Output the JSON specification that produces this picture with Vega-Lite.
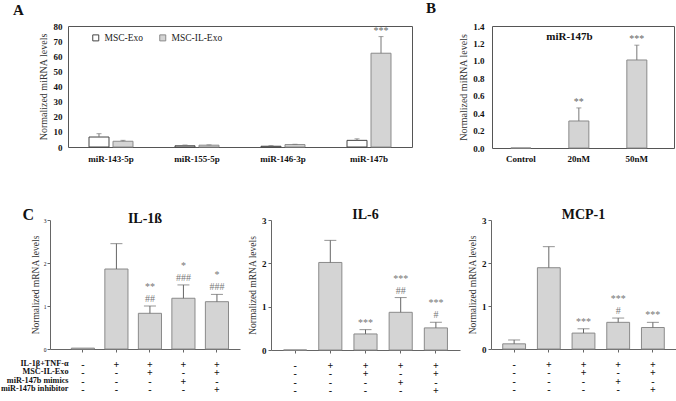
{
  "$schema": "https://vega.github.io/schema/vega-lite/v6.json",
  "autosize": {"type": "pad"},
  "padding": 0,
  "spacing": 42,
  "config": {
    "font": "Liberation Serif",
    "view": {"stroke": null},
    "axis": {"grid": false, "labelFont": "Liberation Serif", "titleFont": "Liberation Serif", "labelColor": "#111", "titleColor": "#333", "titleFontWeight": "normal"},
    "title": {"font": "Liberation Serif", "fontWeight": "bold", "color": "#111"},
    "legend": {"labelFont": "Liberation Serif"}
  },
  "datasets": {
    "a": [
      {"mirna": "miR-143-5p", "group": "MSC-Exo", "value": 6.6, "err": 8.8},
      {"mirna": "miR-143-5p", "group": "MSC-IL-Exo", "value": 3.8, "err": 4.4},
      {"mirna": "miR-155-5p", "group": "MSC-Exo", "value": 0.8, "err": 1.3},
      {"mirna": "miR-155-5p", "group": "MSC-IL-Exo", "value": 1.2, "err": 1.4},
      {"mirna": "miR-146-3p", "group": "MSC-Exo", "value": 0.5, "err": 0.9},
      {"mirna": "miR-146-3p", "group": "MSC-IL-Exo", "value": 1.6, "err": 1.8},
      {"mirna": "miR-147b", "group": "MSC-Exo", "value": 4.4, "err": 5.4},
      {"mirna": "miR-147b", "group": "MSC-IL-Exo", "value": 62, "err": 73, "low": "***"}
    ],
    "b": [
      {"dose": "Control", "value": 0},
      {"dose": "20nM", "value": 0.31, "err": 0.46, "low": "**"},
      {"dose": "50nM", "value": 1.01, "err": 1.18, "low": "***"}
    ],
    "il1b": [
      {"cond": "-|-|-|-", "value": 0.02},
      {"cond": "+|-|-|-", "value": 1.86, "err": 2.45},
      {"cond": "+|+|-|-", "value": 0.83, "err": 1.0, "top": "**", "low": "##"},
      {"cond": "+|-|+|-", "value": 1.18, "err": 1.49, "top": "*", "low": "###"},
      {"cond": "+|+|-|+", "value": 1.1, "err": 1.27, "top": "*", "low": "###"}
    ],
    "il6": [
      {"cond": "-|-|-|-", "value": 0},
      {"cond": "+|-|-|-", "value": 2.02, "err": 2.53},
      {"cond": "+|+|-|-", "value": 0.37, "err": 0.47, "low": "***"},
      {"cond": "+|-|+|-", "value": 0.87, "err": 1.21, "top": "***", "low": "##"},
      {"cond": "+|+|-|+", "value": 0.51, "err": 0.64, "top": "***", "low": "#"}
    ],
    "mcp1": [
      {"cond": "-|-|-|-", "value": 0.12, "err": 0.21},
      {"cond": "+|-|-|-", "value": 1.89, "err": 2.38},
      {"cond": "+|+|-|-", "value": 0.37, "err": 0.47, "low": "***"},
      {"cond": "+|-|+|-", "value": 0.62, "err": 0.72, "top": "***", "low": "#"},
      {"cond": "+|+|-|+", "value": 0.5, "err": 0.62, "low": "***"}
    ],
    "none": []
  },
  "vconcat": [
    {
      "bounds": "flush",
      "spacing": 17,
      "hconcat": [
        {"width": 1, "height": 10, "data": {"name": "none"}, "mark": "point"},
        {
          "bounds": "flush",
          "spacing": 80,
          "hconcat": [
            {
              "width": 344, "height": 121,
              "view": {"stroke": "#555"},
              "title": {"text": "A", "anchor": "start", "frame": "group", "dx": -55, "fontSize": 15, "offset": 4},
              "data": {"name": "a"},
              "encoding": {
                "x": {"field": "mirna", "type": "nominal", "sort": ["miR-143-5p", "miR-155-5p", "miR-146-3p", "miR-147b"],
                      "scale": {"paddingInner": 0, "paddingOuter": 0},
                      "axis": {"title": null, "labelAngle": 0, "ticks": false, "domain": false, "labelFontWeight": "bold", "labelFontSize": 9, "labelPadding": 7}},
                "xOffset": {"field": "group", "type": "nominal", "sort": ["MSC-Exo", "MSC-IL-Exo"], "scale": {"paddingInner": 0.167, "paddingOuter": 0.875}},
                "y": {"field": "value", "type": "quantitative", "scale": {"domain": [0, 80], "nice": false},
                      "axis": {"title": "Normalized miRNA levels", "values": [0, 10, 20, 30, 40, 50, 60, 70, 80], "ticks": false, "domain": false, "labelFontWeight": "bold", "labelFontSize": 9, "labelPadding": 6, "titleFontSize": 10, "titlePadding": 5}}
              },
              "layer": [
                {"mark": {"type": "bar", "strokeWidth": 1},
                 "encoding": {
                   "color": {"field": "group", "type": "nominal", "scale": {"domain": ["MSC-Exo", "MSC-IL-Exo"], "range": ["#ffffff", "#d4d4d4"]},
                             "legend": {"title": null, "orient": "none", "legendX": 41, "legendY": 7, "direction": "horizontal", "symbolType": "square", "symbolSize": 36, "labelFontSize": 9.5, "labelOffset": 4, "labelColor": "#222", "columnPadding": 13, "symbolStrokeWidth": 1}},
                   "stroke": {"field": "group", "type": "nominal", "scale": {"domain": ["MSC-Exo", "MSC-IL-Exo"], "range": ["#444444", "#8a8a8a"]}, "legend": null}
                 }},
                {"transform": [{"filter": "isValid(datum.err)"}], "mark": {"type": "rule", "color": "#777"}, "encoding": {"y2": {"field": "err"}}},
                {"transform": [{"filter": "isValid(datum.err)"}], "mark": {"type": "tick", "color": "#777", "size": 5, "thickness": 1}, "encoding": {"y": {"field": "err", "type": "quantitative"}}},
                {"transform": [{"filter": "isValid(datum.low)"}], "mark": {"type": "text", "baseline": "bottom", "dy": -1, "fontSize": 10, "color": "#666"}, "encoding": {"y": {"field": "err", "type": "quantitative"}, "text": {"field": "low"}}}
              ]
            },
            {
              "width": 182, "height": 122,
              "view": {"stroke": "#555"},
              "title": {"text": "B", "anchor": "start", "frame": "group", "dx": -66, "fontSize": 15, "offset": 6},
              "data": {"name": "b"},
              "resolve": {"axis": {"x": "independent"}},
              "layer": [
                {
                  "encoding": {
                    "x": {"field": "dose", "type": "nominal", "sort": ["Control", "20nM", "50nM"],
                          "scale": {"paddingInner": 0.655, "paddingOuter": 0.397, "align": 0.41},
                          "axis": {"title": null, "labelAngle": 0, "ticks": false, "domain": false, "labelFontWeight": "bold", "labelFontSize": 9, "labelPadding": 6}},
                    "y": {"field": "value", "type": "quantitative", "scale": {"domain": [0, 1.4], "nice": false},
                          "axis": {"title": "Normalized miRNA levels", "values": [0, 0.2, 0.4, 0.6, 0.8, 1.0, 1.2, 1.4], "format": ".1f", "labelOverlap": false, "ticks": false, "domain": false, "labelFontWeight": "bold", "labelFontSize": 9, "labelPadding": 8, "titleFontSize": 10, "titlePadding": 4}}
                  },
                  "layer": [
                    {"mark": {"type": "bar", "fill": "#d4d4d4", "stroke": "#8a8a8a", "strokeWidth": 1}},
                    {"transform": [{"filter": "isValid(datum.err)"}], "mark": {"type": "tick", "color": "#777", "size": 5, "thickness": 1}, "encoding": {"y": {"field": "err", "type": "quantitative"}}},
                    {"transform": [{"filter": "isValid(datum.low)"}], "mark": {"type": "text", "baseline": "bottom", "dy": -1, "fontSize": 10, "color": "#666"}, "encoding": {"y": {"field": "err", "type": "quantitative"}, "text": {"field": "low"}}}
                  ]
                },
                {
                  "transform": [{"filter": "isValid(datum.err)"}],
                  "mark": {"type": "rule", "color": "#777"},
                  "encoding": {
                    "x": {"field": "dose", "type": "nominal", "sort": ["Control", "20nM", "50nM"],
                          "scale": {"paddingInner": 0.655, "paddingOuter": 0.397, "align": 0.41},
                          "axis": {"orient": "top", "labels": false, "ticks": false, "domain": false, "title": "miR-147b", "titleX": 77, "titleY": 10, "titleAlign": "center", "titleBaseline": "middle", "titleAngle": 0, "titleFontSize": 11, "titleFontWeight": "bold", "titleColor": "#111"}},
                    "y": {"field": "value", "type": "quantitative", "scale": {"domain": [0, 1.4], "nice": false},
                          "axis": {"title": "Normalized miRNA levels", "values": [0, 0.2, 0.4, 0.6, 0.8, 1.0, 1.2, 1.4], "format": ".1f", "labelOverlap": false, "ticks": false, "domain": false, "labelFontWeight": "bold", "labelFontSize": 9, "labelPadding": 8, "titleFontSize": 10, "titlePadding": 4}},
                    "y2": {"field": "err"}
                  }
                }
              ]
            }
          ]
        }
      ]
    },
    {
      "bounds": "flush",
      "spacing": 31,
      "hconcat": [
        {
          "width": 190, "height": 129,
          "title": {"text": "IL-1ß", "fontSize": 14, "offset": -20},
          "data": {"name": "il1b"},
          "resolve": {"axis": {"x": "independent"}},
          "layer": [
            {
              "encoding": {
                "x": {"field": "cond", "type": "nominal", "sort": null,
                      "scale": {"paddingInner": 0.31, "paddingOuter": 0.49, "align": 0.65},
                      "axis": {"labelExpr": "split(datum.value, '|')", "labelAngle": 0, "labelFontWeight": "bold", "labelFontSize": 10, "labelLineHeight": 8.5, "labelPadding": 7, "labelBaseline": "top", "tickSize": 3, "tickColor": "#666", "domainColor": "#666",
                               "title": ["IL-1β+TNF-α", "MSC-IL-Exo", "miR-147b mimics", "miR-147b inhibitor"], "titleAngle": 0, "titleAlign": "right", "titleBaseline": "top", "titleX": 18, "titleY": 10, "titleLineHeight": 8.5, "titleFontSize": 8.2, "titleFontWeight": "bold", "titleColor": "#111"}},
                "y": {"field": "value", "type": "quantitative", "scale": {"domain": [0, 3], "nice": false},
                      "axis": {"title": "Normalized mRNA levels", "values": [0, 1, 2, 3], "tickSize": 3, "tickColor": "#666", "domainColor": "#666", "labelFontSize": 5.5, "labelPadding": 1, "titleFontSize": 9.5, "titlePadding": 3}}
              },
              "layer": [
                {"mark": {"type": "bar", "fill": "#d4d4d4", "stroke": "#8a8a8a", "strokeWidth": 1}},
                {"transform": [{"filter": "isValid(datum.err)"}], "mark": {"type": "tick", "color": "#666", "size": 12, "thickness": 1}, "encoding": {"y": {"field": "err", "type": "quantitative"}}},
                {"transform": [{"filter": "isValid(datum.low)"}], "mark": {"type": "text", "baseline": "bottom", "dy": -2, "fontSize": 10, "color": "#777"}, "encoding": {"y": {"field": "err", "type": "quantitative"}, "text": {"field": "low"}}},
                {"transform": [{"filter": "isValid(datum.top)"}], "mark": {"type": "text", "baseline": "bottom", "dy": -14, "fontSize": 10, "color": "#777"}, "encoding": {"y": {"field": "err", "type": "quantitative"}, "text": {"field": "top"}}}
              ]
            },
            {
              "transform": [{"filter": "isValid(datum.err)"}],
              "mark": {"type": "rule", "color": "#666"},
              "encoding": {
                "x": {"field": "cond", "type": "nominal", "sort": null,
                      "scale": {"paddingInner": 0.31, "paddingOuter": 0.49, "align": 0.65},
                      "axis": {"orient": "top", "labels": false, "ticks": false, "domain": false, "title": "C", "titleX": -28, "titleY": -6, "titleAlign": "left", "titleBaseline": "middle", "titleAngle": 0, "titleFontSize": 16, "titleFontWeight": "bold", "titleColor": "#111"}},
                "y": {"field": "value", "type": "quantitative", "scale": {"domain": [0, 3], "nice": false},
                      "axis": {"title": "Normalized mRNA levels", "values": [0, 1, 2, 3], "tickSize": 3, "tickColor": "#666", "domainColor": "#666", "labelFontSize": 5.5, "labelPadding": 1, "titleFontSize": 9.5, "titlePadding": 3}},
                "y2": {"field": "err"}
              }
            }
          ]
        },
        {
          "width": 189, "height": 130,
          "title": {"text": "IL-6", "fontSize": 14, "offset": -6},
          "data": {"name": "il6"},
          "encoding": {
            "x": {"field": "cond", "type": "nominal", "sort": null,
                  "scale": {"paddingInner": 0.343, "paddingOuter": 0.357},
                  "axis": {"title": null, "labelExpr": "split(datum.value, '|')", "labelAngle": 0, "labelFontWeight": "bold", "labelFontSize": 10, "labelLineHeight": 8.5, "labelPadding": 7, "labelBaseline": "top", "tickSize": 3, "tickColor": "#666", "domainColor": "#666"}},
            "y": {"field": "value", "type": "quantitative", "scale": {"domain": [0, 3], "nice": false},
                  "axis": {"title": "Normalized mRNA levels", "values": [0, 1, 2, 3], "tickSize": 3, "tickColor": "#666", "domainColor": "#666", "labelFontSize": 9, "labelFontWeight": "bold", "labelPadding": 2, "titleFontSize": 9.5, "titlePadding": 4}}
          },
          "layer": [
            {"mark": {"type": "bar", "fill": "#d4d4d4", "stroke": "#8a8a8a", "strokeWidth": 1}},
            {"transform": [{"filter": "isValid(datum.err)"}], "mark": {"type": "rule", "color": "#666"}, "encoding": {"y2": {"field": "err"}}},
            {"transform": [{"filter": "isValid(datum.err)"}], "mark": {"type": "tick", "color": "#666", "size": 12, "thickness": 1}, "encoding": {"y": {"field": "err", "type": "quantitative"}}},
            {"transform": [{"filter": "isValid(datum.low)"}], "mark": {"type": "text", "baseline": "bottom", "dy": -2, "fontSize": 10, "color": "#777"}, "encoding": {"y": {"field": "err", "type": "quantitative"}, "text": {"field": "low"}}},
            {"transform": [{"filter": "isValid(datum.top)"}], "mark": {"type": "text", "baseline": "bottom", "dy": -14, "fontSize": 10, "color": "#777"}, "encoding": {"y": {"field": "err", "type": "quantitative"}, "text": {"field": "top"}}}
          ]
        },
        {
          "width": 185, "height": 129,
          "title": {"text": "MCP-1", "fontSize": 14, "offset": -6},
          "data": {"name": "mcp1"},
          "encoding": {
            "x": {"field": "cond", "type": "nominal", "sort": null,
                  "scale": {"paddingInner": 0.342, "paddingOuter": 0.338},
                  "axis": {"title": null, "labelExpr": "split(datum.value, '|')", "labelAngle": 0, "labelFontWeight": "bold", "labelFontSize": 10, "labelLineHeight": 8.5, "labelPadding": 7, "labelBaseline": "top", "tickSize": 3, "tickColor": "#666", "domainColor": "#666"}},
            "y": {"field": "value", "type": "quantitative", "scale": {"domain": [0, 3], "nice": false},
                  "axis": {"title": "Normalized mRNA levels", "values": [0, 1, 2, 3], "tickSize": 3, "tickColor": "#666", "domainColor": "#666", "labelFontSize": 9, "labelFontWeight": "bold", "labelPadding": 2, "titleFontSize": 9.5, "titlePadding": 4}}
          },
          "layer": [
            {"mark": {"type": "bar", "fill": "#d4d4d4", "stroke": "#8a8a8a", "strokeWidth": 1}},
            {"transform": [{"filter": "isValid(datum.err)"}], "mark": {"type": "rule", "color": "#666"}, "encoding": {"y2": {"field": "err"}}},
            {"transform": [{"filter": "isValid(datum.err)"}], "mark": {"type": "tick", "color": "#666", "size": 12, "thickness": 1}, "encoding": {"y": {"field": "err", "type": "quantitative"}}},
            {"transform": [{"filter": "isValid(datum.low)"}], "mark": {"type": "text", "baseline": "bottom", "dy": -2, "fontSize": 10, "color": "#777"}, "encoding": {"y": {"field": "err", "type": "quantitative"}, "text": {"field": "low"}}},
            {"transform": [{"filter": "isValid(datum.top)"}], "mark": {"type": "text", "baseline": "bottom", "dy": -14, "fontSize": 10, "color": "#777"}, "encoding": {"y": {"field": "err", "type": "quantitative"}, "text": {"field": "top"}}}
          ]
        }
      ]
    }
  ]
}
